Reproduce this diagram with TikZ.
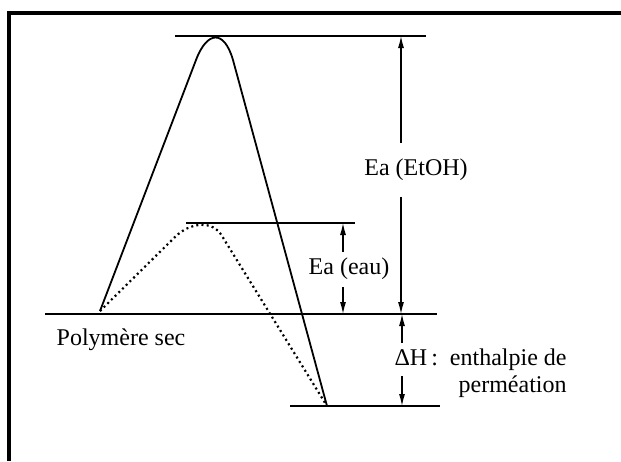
\documentclass[tikz,border=0pt]{standalone}
\usepackage{fontspec}
\setmainfont{Liberation Serif}
\usetikzlibrary{arrows.meta}

\begin{document}
\begin{tikzpicture}[x=0.5pt, y=-0.5pt,
    level/.style={line width=1.3pt},
    barrier/.style={line width=0.9pt},
    dim/.style={line width=0.6pt, -{Latex[length=6pt, width=3pt]}},
    lbl/.style={font=\fontsize{12pt}{13.5pt}\selectfont, inner sep=0pt}]
    \useasboundingbox (0,0) rectangle (621,461);

    % Frame (top and left edges only)
    \draw[line width=1.6pt] (9,461) -- (9,13) -- (621,13);

    % Energy levels
    \draw[level] (175,36) coordinate (topL) -- (426,36) coordinate (topR);
    \draw[level] (186,223) coordinate (midL) -- (355,223) coordinate (midR);
    \draw[level] (45,314) coordinate (dryL) -- (437,314) coordinate (dryR);
    \draw[level] (290,406) coordinate (lowL) -- (440,406) coordinate (lowR);

    % Barriers: EtOH (solid) and eau (dotted)
    \coordinate (start) at (100,311);
    \coordinate (end) at (327,406);
    \draw[barrier] (start) -- (196,60) .. controls (207,31) and (224,29) .. (233,60) -- (end);
    \draw[barrier, line width=1.1pt, dash pattern=on 1pt off 1.6pt]
        (start) -- (175,237) .. controls (190,222) and (213,220) .. (222,236) -- (end);

    % Labels
    \node[lbl] (dry) at (121,340) {Polymère sec};
    \node[lbl] (etoh) at (416,170) {Ea (EtOH)};
    \node[lbl] (eau) at (349,269) {Ea (eau)};
    \node[lbl, align=right, anchor=east] (dh) at (567,373) {ΔH\,:~~enthalpie de\\perméation};

    % Arrow columns
    \coordinate (colA) at (401,0);
    \coordinate (colB) at (343,0);
    \coordinate (etohUp) at (401,143);
    \coordinate (etohDn) at (401,197);
    \coordinate (eauUp) at (343,252);
    \coordinate (eauDn) at (343,287);
    \coordinate (dhUp) at (402,343);
    \coordinate (dhDn) at (402,376);

    \draw[dim] (etohUp) -- (colA |- topL);
    \draw[dim] (etohDn) -- (colA |- dryL);
    \draw[dim] (eauUp) -- (colB |- midL);
    \draw[dim] (eauDn) -- (colB |- dryL);
    \draw[dim] (dhUp) -- (dhUp |- dryL);
    \draw[dim] (dhDn) -- (dhDn |- lowL);
\end{tikzpicture}
\end{document}
